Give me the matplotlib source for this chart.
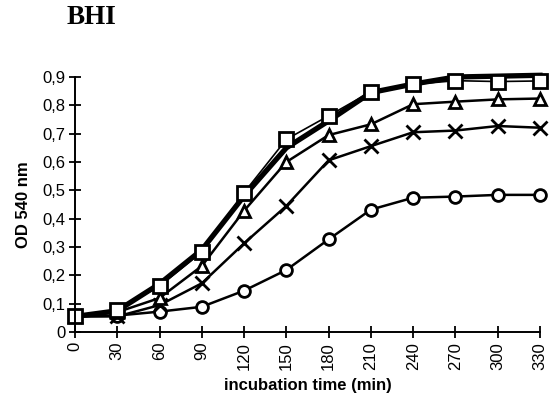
import matplotlib
matplotlib.use("Agg")
import matplotlib.pyplot as plt

# incubation times (min)
tiempo = [0, 30, 60, 90, 120, 150, 180, 210, 240, 270, 300, 330]

# OD 540 nm
od_thick = [0.055, 0.075, 0.17, 0.29, 0.48, 0.65, 0.745, 0.845, 0.875, 0.900, 0.903, 0.906]
od_square = [0.055, 0.078, 0.162, 0.283, 0.492, 0.680, 0.763, 0.848, 0.874, 0.887, 0.884, 0.886]
od_triangle = [0.055, 0.070, 0.120, 0.233, 0.428, 0.600, 0.695, 0.733, 0.804, 0.813, 0.821, 0.824]
od_cross = [0.055, 0.055, 0.095, 0.172, 0.313, 0.445, 0.606, 0.656, 0.705, 0.711, 0.727, 0.721]
od_circle = [0.055, 0.058, 0.072, 0.089, 0.146, 0.219, 0.327, 0.432, 0.474, 0.478, 0.484, 0.484]

y_ticks = [0, 0.1, 0.2, 0.3, 0.4, 0.5, 0.6, 0.7, 0.8, 0.9]
y_labels = ['0', '0,1', '0,2', '0,3', '0,4', '0,5', '0,6', '0,7', '0,8', '0,9']

plt.rcParams['font.family'] = ['Liberation Sans', 'DejaVu Sans']

fig = plt.figure(figsize=(5.49, 4.01), dpi=100)
ax = fig.add_axes([0.1366, 0.172, 0.847, 0.636])

mk = dict(color='black', markerfacecolor='white', markeredgecolor='black',
          markeredgewidth=2.0, clip_on=False)

ax.plot(tiempo, od_circle, marker='o', markersize=8.5, linewidth=1.8, **mk)
ax.plot(tiempo, od_cross, marker='x', markersize=10, linewidth=1.8, **mk)
ax.plot(tiempo, od_triangle, marker='^', markersize=9, linewidth=1.8, **mk)
ax.plot(tiempo, od_thick, color='black', linewidth=3.8, clip_on=False)
ax.plot(tiempo, od_square, marker='s', markersize=10, linewidth=1.2, **mk)

ax.set_xlim(0, 330)
ax.set_ylim(0, 0.9)
ax.set_xticks(tiempo)
ax.set_xticklabels([str(t) for t in tiempo], rotation=90, fontsize=12)
ax.set_yticks(y_ticks)
ax.set_yticklabels(y_labels, fontsize=12)

ax.spines['top'].set_visible(False)
ax.spines['right'].set_visible(False)
ax.spines['left'].set_linewidth(1.4)
ax.spines['bottom'].set_linewidth(1.4)
ax.tick_params(direction='inout', length=8, width=1.3, pad=3)

ax.set_xlabel('incubation time (min)', fontsize=12, fontweight='bold', labelpad=6)
ax.set_ylabel('OD 540 nm', fontsize=12, fontweight='bold', labelpad=8)

fig.text(0.122, 0.925, 'BHI', fontsize=19.5, fontweight='bold',
         family='Liberation Serif', ha='left', va='bottom')

fig.savefig('out.png', dpi=100)
